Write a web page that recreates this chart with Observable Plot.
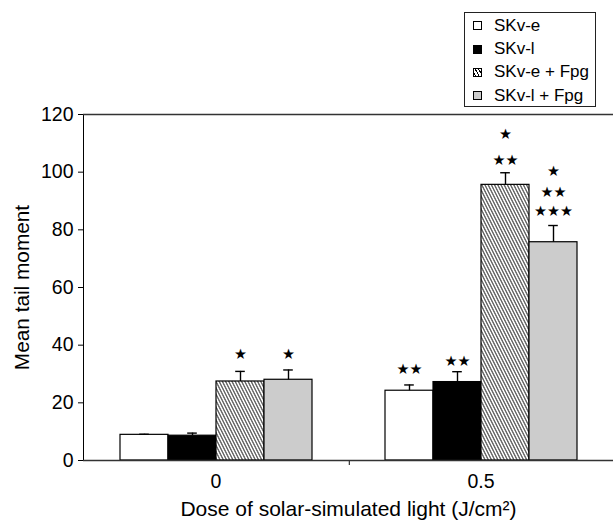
<!DOCTYPE html>
<html>
<head>
<meta charset="utf-8">
<script src="https://cdn.jsdelivr.net/npm/d3@7"></script>
<script src="https://cdn.jsdelivr.net/npm/@observablehq/plot@0.6"></script>
<style>
  html, body { margin: 0; padding: 0; background: #fff; }
  #wrap { position: relative; width: 613px; height: 521px; font-family: "Liberation Sans", Arial, sans-serif; }
  #legend { position: absolute; left: 464px; top: 12px; width: 132px; height: 95px; border: 1px solid #222; box-sizing: border-box; padding-top: 1px; background: #fff; }
  .row { display: flex; align-items: center; height: 23.4px; font-size: 17px; color: #000; }
  .sw { width: 9px; height: 9px; border: 1px solid #000; margin-left: 8px; margin-right: 12px; box-sizing: border-box; }
</style>
</head>
<body>
<div id="wrap"><div id="legend"></div></div>
<script>
const doses = ["0", "0.5"];
const series = ["SKv-e", "SKv-l", "SKv-e + Fpg", "SKv-l + Fpg"];
const means0 = [8.9, 8.6, 27.4, 28.0];
const means05 = [24.2, 27.2, 95.6, 75.7];
const errs0 = [0.2, 0.9, 3.5, 3.4];
const errs05 = [2.0, 3.6, 4.2, 5.8];
const fills = ["#ffffff", "#000000", "url(#hatch)", "#cccccc"];
const yTicks = [0, 20, 40, 60, 80, 100, 120];
// significance marks: dose, series, label, vertical position (data units)
const starDose = ["0", "0", "0.5", "0.5", "0.5", "0.5", "0.5", "0.5", "0.5"];
const starSeries = ["SKv-e + Fpg", "SKv-l + Fpg", "SKv-e", "SKv-l", "SKv-e + Fpg", "SKv-e + Fpg", "SKv-l + Fpg", "SKv-l + Fpg", "SKv-l + Fpg"];
const starText = ["★", "★", "★★", "★★", "★", "★★", "★", "★★", "★★★"];
const starY = [37.2, 37.0, 31.8, 34.7, 113.4, 104.4, 100.7, 93.2, 86.6];

const data = [];
doses.forEach((d, di) => series.forEach((s, si) => {
  data.push({dose: d, series: s, mean: di === 0 ? means0[si] : means05[si], err: di === 0 ? errs0[si] : errs05[si]});
}));
const stars = starText.map((t, i) => ({dose: starDose[i], series: starSeries[i], text: t, y: starY[i]}));

const W = 613, H = 521, mL = 82, mR = 0, mT = 114, mB = 61;
const po = 0.743;
const facetW = (W - mL - mR) / doses.length;
const step = facetW / (series.length + 2 * po);

const svg = Plot.plot({
  width: W, height: H,
  marginLeft: mL, marginRight: mR, marginTop: mT, marginBottom: mB,
  style: {fontFamily: "Liberation Sans, Arial, sans-serif", fontSize: "19.5px", color: "#000", background: "#fff"},
  fx: {domain: doses, padding: 0, label: null, tickSize: 0, tickPadding: 14},
  x: {domain: series, paddingInner: 0, paddingOuter: po, axis: null},
  y: {domain: [0, 120], ticks: yTicks, tickSize: 5, tickPadding: 5, label: null, line: true},
  color: {domain: series, range: fills},
  marks: [
    Plot.ruleY([120], {stroke: "#333", strokeWidth: 1.3}),
    Plot.barY(data, {fx: "dose", x: "series", y: "mean", fill: "series", stroke: "#000", strokeWidth: 1.2}),
    Plot.ruleX(data, {fx: "dose", x: "series", y1: "mean", y2: d => d.mean + d.err, stroke: "#000", strokeWidth: 1.4}),
    Plot.tickY(data, {fx: "dose", x: "series", y: d => d.mean + d.err, stroke: "#000", strokeWidth: 1.4, insetLeft: step / 2 - 5, insetRight: step / 2 - 5}),
    Plot.ruleY([0], {stroke: "#333", strokeWidth: 1.3}),
    Plot.ruleX([{dose: "0.5", s: series[0]}], {fx: "dose", x: "s", y1: 0, y2: 0, insetBottom: -5, dx: -(po * step + step / 2), stroke: "#333", strokeWidth: 1.2}),
    Plot.text(stars, {fx: "dose", x: "series", y: "y", text: "text", fontFamily: "DejaVu Sans", fontSize: 14.5, dy: 1}),
    Plot.text([{dose: "0"}], {fx: "dose", frameAnchor: "left", text: () => "Mean tail moment", rotate: -90, dx: -61, textAnchor: "middle", lineAnchor: "middle", fontSize: 20.8}),
    Plot.text([{dose: "0.5"}], {fx: "dose", frameAnchor: "bottom-left", text: () => "Dose of solar-simulated light (J/cm²)", dy: 49, textAnchor: "middle", lineAnchor: "middle", fontSize: 21})
  ]
});

const defs = d3.select(svg).insert("defs", ":first-child");
const pat = defs.append("pattern").attr("id", "hatch").attr("patternUnits", "userSpaceOnUse")
  .attr("width", 3.2).attr("height", 10).attr("patternTransform", "skewX(26.6)");
pat.append("rect").attr("width", 3.2).attr("height", 10).attr("fill", "#fff");
pat.append("line").attr("x1", 1.6).attr("y1", 0).attr("x2", 1.6).attr("y2", 10).attr("stroke", "#111").attr("stroke-width", 1);

document.getElementById("wrap").prepend(svg);

const legend = document.getElementById("legend");
const swStyles = [
  "background:#fff;",
  "background:#000;",
  "background: repeating-linear-gradient(60deg, #fff 0 1px, #000 1px 2px, #fff 2px 3px);",
  "background:#ccc;"
];
series.forEach((s, i) => {
  const row = document.createElement("div");
  row.className = "row";
  const sw = document.createElement("div");
  sw.className = "sw";
  sw.setAttribute("style", swStyles[i]);
  const lab = document.createElement("span");
  lab.textContent = s;
  row.appendChild(sw);
  row.appendChild(lab);
  legend.appendChild(row);
});
</script>
</body>
</html>
